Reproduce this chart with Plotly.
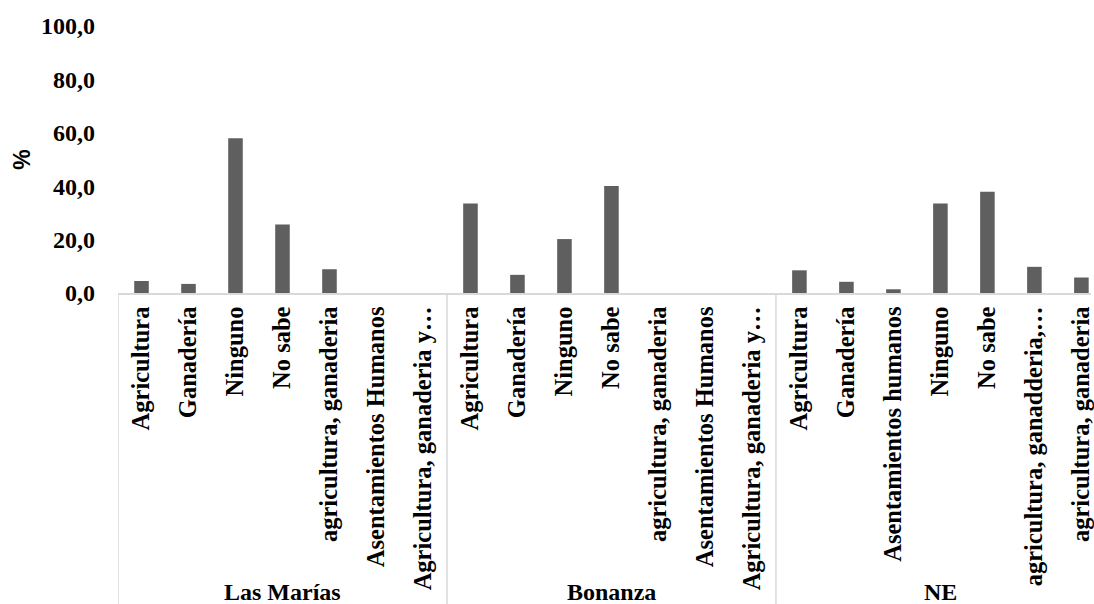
import plotly.graph_objects as go

groups = ["Las Marías", "Bonanza", "NE"]
cats_las_marias = ["Agricultura", "Ganadería", "Ninguno", "No sabe",
                   "agricultura, ganaderia", "Asentamientos Humanos",
                   "Agricultura, ganaderia y…"]
vals_las_marias = [4.5, 3.4, 58.0, 25.7, 8.9, 0.0, 0.0]
cats_bonanza = ["Agricultura", "Ganadería", "Ninguno", "No sabe",
                "agricultura, ganaderia", "Asentamientos Humanos",
                "Agricultura, ganaderia y…"]
vals_bonanza = [33.5, 6.8, 20.2, 40.1, 0.0, 0.0, 0.0]
cats_ne = ["Agricultura", "Ganadería", "Asentamientos humanos", "Ninguno",
           "No sabe", "agricultura, ganadderia,…", "agricultura, ganaderia"]
vals_ne = [8.5, 4.2, 1.4, 33.5, 37.9, 9.8, 5.8]
y_ticks = [0, 20, 40, 60, 80, 100]

all_cats = cats_las_marias + cats_bonanza + cats_ne
all_vals = vals_las_marias + vals_bonanza + vals_ne
group_sizes = [len(cats_las_marias), len(cats_bonanza), len(cats_ne)]
xs = list(range(len(all_cats)))

FONT = "Liberation Serif"
W, H = 1094, 604
ml, mt, mb = 118, 26, 311
ph = H - mt - mb

fig = go.Figure()
fig.add_trace(go.Bar(
    x=xs, y=all_vals, width=0.31,
    marker=dict(color="#5f5f5f", line=dict(width=0)),
    showlegend=False, hoverinfo="y",
))

shapes = []
edges = [-0.5]
acc = -0.5
for n in group_sizes:
    acc += n
    edges.append(acc)
for e in edges[:-1]:
    shapes.append(dict(type="line", xref="x", yref="paper", x0=e, x1=e,
                       y0=0, y1=-mb / ph, line=dict(color="#d9d9d9", width=1.5)))

annotations = []
start = 0
for g, n in zip(groups, group_sizes):
    annotations.append(dict(text=g, xref="x", yref="paper", x=start + (n - 1) / 2,
                            y=-(591.5 - (mt + ph)) / ph, showarrow=False,
                            font=dict(family=FONT, size=24, color="black", weight="bold"),
                            xanchor="center", yanchor="middle"))
    start += n

annotations.append(dict(text="%", xref="paper", yref="paper",
                        x=(21 - ml) / (W - ml), y=0.5, textangle=-90, showarrow=False,
                        font=dict(family="Liberation Sans", size=23, color="black", weight="bold"),
                        xanchor="center", yanchor="middle"))

fig.update_layout(
    width=W, height=H,
    margin=dict(l=ml, r=0, t=mt, b=mb, pad=0),
    plot_bgcolor="white", paper_bgcolor="white",
    separators=",.",
    shapes=shapes, annotations=annotations,
    xaxis=dict(
        range=[-0.5, -0.5 + (W - ml) / 47.14],
        tickvals=xs, ticktext=all_cats, tickangle=-90,
        tickfont=dict(family=FONT, size=24.5, color="black", weight="bold"),
        showgrid=False, zeroline=False,
        showline=True, linecolor="#d9d9d9", linewidth=1.5,
        ticks="", ticklabelstandoff=2, ticklabeloverflow="allow",
    ),
    yaxis=dict(
        range=[0, 100], tickvals=y_ticks, tickformat=".1f",
        tickfont=dict(family=FONT, size=24, color="black", weight="bold"),
        showgrid=False, zeroline=False, showline=False,
        ticks="", ticklabelstandoff=22,
    ),
)

fig.write_html("out.html")
